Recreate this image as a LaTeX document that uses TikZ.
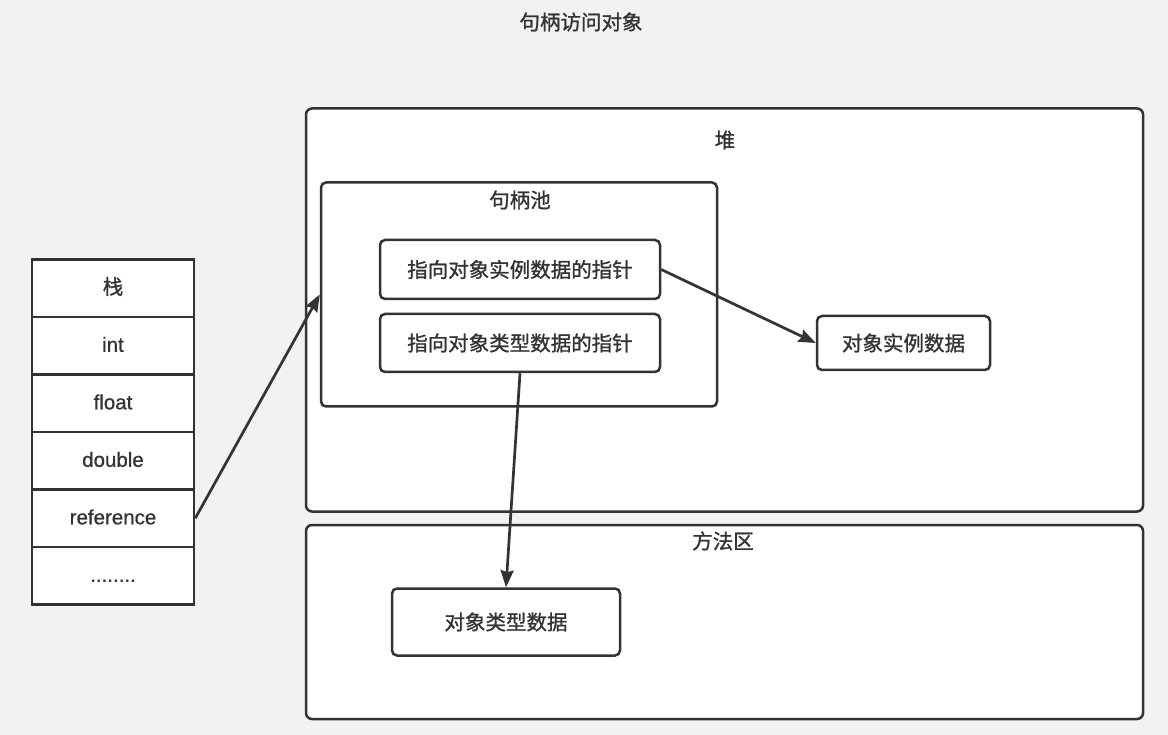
\documentclass[tikz,border=0pt]{standalone}
\usepackage{fontspec}
\setmainfont[FakeBold=0.6]{Liberation Sans}
\newfontfamily\cjk[FakeBold=1.1]{Noto Sans CJK SC}
\usetikzlibrary{arrows.meta}
\definecolor{bg}{HTML}{F2F2F2}
\definecolor{ink}{HTML}{333333}
\tikzset{
  cell/.style={draw=ink, fill=white, line width=2.5pt, minimum width=162pt, minimum height=57.5pt, inner sep=0pt, text height=15.5pt, text depth=3.5pt, text=ink, font=\fontsize{20.5}{24}\selectfont},
  box/.style={draw=ink, fill=white, line width=2.5pt, rounded corners=5pt, inner sep=0pt, text=ink, font=\cjk\fontsize{20.5}{24}\selectfont},
  region/.style={draw=ink, fill=white, line width=2.5pt, rounded corners=6pt, inner sep=0pt},
  lbl/.style={text=ink, font=\cjk\fontsize{20.5}{24}\selectfont, inner sep=0pt},
  arr/.style={draw=ink, line width=2.7pt, -{Stealth[length=17pt,width=13pt,inset=2pt]}},
}
\begin{document}
\begin{tikzpicture}[x=1pt,y=-1pt]
\fill[bg] (0,0) rectangle (1168,735);
\useasboundingbox (0,0) rectangle (1168,735);
% title
\node[lbl] (title) at (581,22) {句柄访问对象};
% regions
\node[region, minimum width=837pt, minimum height=403pt] (heap) at (724.5,310) {};
\node[lbl] (heaplbl) at (725,140) {堆};
\node[region, minimum width=837pt, minimum height=194pt] (method) at (724.5,622) {};
\node[lbl] (methodlbl) at (723,541) {方法区};
% handle pool
\node[region, rounded corners=5pt, minimum width=396pt, minimum height=224pt] (pool) at (519,294.5) {};
\node[lbl] (poollbl) at (520,200) {句柄池};
\node[box, minimum width=280pt, minimum height=59pt] (p1) at (520,269.5) {指向对象实例数据的指针};
\node[box, minimum width=280pt, minimum height=58pt] (p2) at (520,343) {指向对象类型数据的指针};
\node[box, minimum width=173pt, minimum height=54pt] (inst) at (903.5,343) {对象实例数据};
\node[box, minimum width=228pt, minimum height=67pt] (type) at (506,622) {对象类型数据};
% stack
\node[cell] (s1) at (113,288.3) {\cjk 栈};
\node[cell] (s2) at (113,345.8) {int};
\node[cell] (s3) at (113,403.3) {float};
\node[cell] (s4) at (113,460.8) {double};
\node[cell] (s5) at (113,518.3) {reference};
\node[cell] (s6) at (113,575.8) {........};
% arrows
\draw[arr] (s5.east) -- (pool.west);
\draw[arr] (p1.east) -- (inst.west);
\draw[arr] (p2.south) -- (type.north);
\end{tikzpicture}
\end{document}
